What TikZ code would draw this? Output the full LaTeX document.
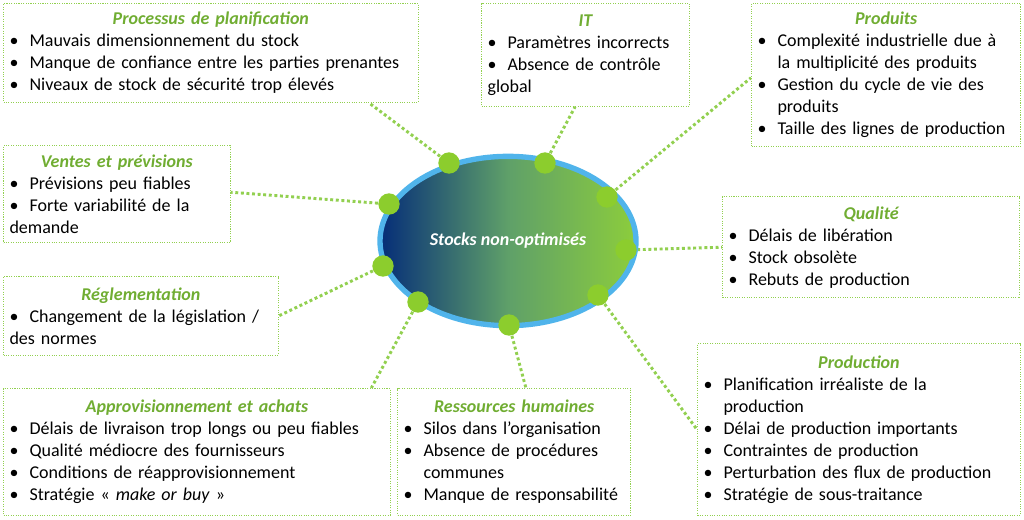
\documentclass[tikz,border=0pt]{standalone}
\usepackage{fontspec}
\setmainfont{Carlito}
\usetikzlibrary{calc,shapes.geometric}

\definecolor{ttlgreen}{RGB}{112,173,50}
\definecolor{boxgreen}{RGB}{146,208,80}
\definecolor{dotgreen}{RGB}{140,205,45}
\definecolor{rimblue}{RGB}{80,180,235}
\definecolor{deepblue}{RGB}{5,45,120}
\definecolor{midgreen}{RGB}{95,160,105}
\definecolor{lightgreen}{RGB}{140,205,60}

\newcommand{\ttl}[1]{{\centering\bfseries\itshape\color{ttlgreen}#1\par}}
\newcommand{\itm}[1]{\par\hangindent=15pt\hangafter=1\noindent\makebox[15pt][l]{\textbullet}#1}

\begin{document}
\begin{tikzpicture}[
    x=0.75pt, y=-0.75pt,
    cause/.style={draw=boxgreen, densely dotted, thick, anchor=north west, align=left,
      inner xsep=4.5pt, inner ysep=2pt, font=\fontsize{13.5}{16.5}\selectfont},
    link/.style={draw=boxgreen, line width=2.2pt, dotted},
    spot/.style={circle, fill=dotgreen, minimum size=16pt, inner sep=0pt}
  ]
    \useasboundingbox (0,0) rectangle (1024,519);

    % Boxes, top row
    \node[cause, text width=302pt, minimum height=74pt] (plan) at (3,3) {
      \ttl{Processus de planification}
      \itm{Mauvais dimensionnement du stock}
      \itm{Manque de confiance entre les parties prenantes}
      \itm{Niveaux de stock de sécurité trop élevés}
    };
    \node[cause, text width=147pt, minimum height=77pt] (it) at (481,3) {
      \ttl{IT}
      \itm{Paramètres incorrects}
      \itm{Absence de contrôle\newline global}
    };
    \node[cause, text width=193pt, minimum height=107pt] (prod) at (751,3) {
      \ttl{Produits}
      \itm{Complexité industrielle due à\newline la multiplicité des produits}
      \itm{Gestion du cycle de vie des\newline produits}
      \itm{Taille des lignes de production}
    };

    % Boxes, middle
    \node[cause, text width=161pt, minimum height=73pt] (vente) at (3,145) {
      \ttl{Ventes et prévisions}
      \itm{Prévisions peu fiables}
      \itm{Forte variabilité de la\newline demande}
    };
    \node[cause, text width=214pt, minimum height=76pt] (qual) at (722,196) {
      \ttl{Qualité}
      \itm{Délais de libération}
      \itm{Stock obsolète}
      \itm{Rebuts de production}
    };
    \node[cause, text width=197pt, minimum height=59pt] (regl) at (3,276) {
      \ttl{Réglementation}
      \itm{Changement de la législation /\newline des normes}
    };

    % Boxes, bottom row
    \node[cause, text width=281pt, minimum height=95pt] (appro) at (3,388) {
      \ttl{Approvisionnement et achats}
      \itm{Délais de livraison trop longs ou peu fiables}
      \itm{Qualité médiocre des fournisseurs}
      \itm{Conditions de réapprovisionnement}
      \itm{Stratégie « \textit{make or buy} »}
    };
    \node[cause, text width=166pt, minimum height=95pt] (rh) at (397,388) {
      \ttl{Ressources humaines}
      \itm{Silos dans l'organisation}
      \itm{Absence de procédures\newline communes}
      \itm{Manque de responsabilité}
    };
    \node[cause, text width=233pt, minimum height=129pt] (fab) at (697,343) {
      \ttl{Production}
      \itm{Planification irréaliste de la\newline production}
      \itm{Délai de production importants}
      \itm{Contraintes de production}
      \itm{Perturbation des flux de production}
      \itm{Stratégie de sous-traitance}
    };

    % Spots on the rim
    \coordinate (s1) at (449,163);
    \coordinate (s2) at (545,163);
    \coordinate (s3) at (607,197);
    \coordinate (s4) at (626,250);
    \coordinate (s5) at (598,295);
    \coordinate (s6) at (509,325);
    \coordinate (s7) at (418,302);
    \coordinate (s8) at (383,266);
    \coordinate (s9) at (389,204);

    % Links
    \draw[link] (s1) -- ($(plan.south west)!0.88!(plan.south east)$);
    \draw[link] (s2) -- ($(it.south west)!0.45!(it.south east)$);
    \draw[link] (s3) -- ($(prod.north west)!0.52!(prod.south west)$);
    \draw[link] (s9) -- ($(vente.north east)!0.48!(vente.south east)$);
    \draw[link] (s4) -- ($(qual.north west)!0.5!(qual.south west)$);
    \draw[link] (s8) -- ($(regl.north east)!0.5!(regl.south east)$);
    \draw[link] (s7) -- ($(appro.north west)!0.95!(appro.north east)$);
    \draw[link] (s6) -- ($(rh.north west)!0.55!(rh.north east)$);
    \draw[link] (s5) -- ($(fab.north west)!0.5!(fab.south west)$);

    % Centre
    \node[ellipse, minimum width=192pt, minimum height=127pt, draw=rimblue, line width=4pt,
      left color=deepblue, right color=lightgreen, middle color=midgreen,
      text=white, font=\fontsize{13.5}{16}\selectfont\bfseries\itshape] (core) at (508,241) {Stocks non-optimisés};

    \foreach \s in {s1,s2,s3,s4,s5,s6,s7,s8,s9}
      \node[spot] at (\s) {};
\end{tikzpicture}
\end{document}
